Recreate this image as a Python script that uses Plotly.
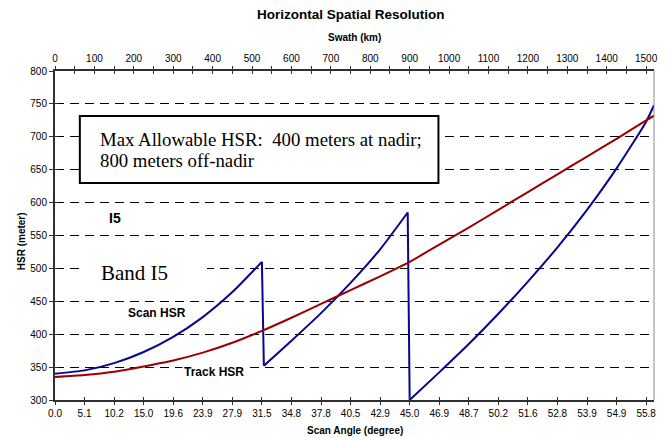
import plotly.graph_objects as go

# ---- data (x = swath distance in km, y = HSR in meters) ----
scan_seg1_swath = [0, 75, 150, 225, 300, 375, 450, 525]
scan_seg1_hsr = [340, 345, 356, 373, 396, 426, 464, 510]
scan_seg2_swath = [530, 600, 675, 750, 825, 895]
scan_seg2_hsr = [352, 390, 432, 478, 529, 585]
scan_seg3_swath = [900, 975, 1050, 1125, 1200, 1275, 1350, 1425, 1500, 1520]
scan_seg3_hsr = [300, 342, 385, 431, 480, 532, 589, 652, 723, 748]

track_swath = [0, 75, 150, 225, 300, 375, 450, 525, 600, 675, 750, 825, 900,
               975, 1050, 1125, 1200, 1275, 1350, 1425, 1500, 1520]
track_hsr = [335, 338, 343, 351, 360, 372, 387, 405, 425, 446, 467, 488, 510,
             536, 562, 589, 616, 643, 670, 697, 725, 732]

angle_tick_swath = [i * 75 for i in range(21)]
angle_tick_labels = ["0.0", "5.1", "10.2", "15.0", "19.6", "23.9", "27.9", "31.5", "34.8",
                     "37.8", "40.5", "42.9", "45.0", "46.9", "48.7", "50.2", "51.6", "52.8",
                     "53.9", "54.9", "55.8"]
swath_tick_vals = list(range(0, 1501, 100))
hsr_ticks = list(range(300, 801, 50))

BLUE = "#06068F"
RED = "#9A0000"
FONT = "Liberation Sans, Arial, sans-serif"
SERIF = "Liberation Serif, Times New Roman, serif"

fig = go.Figure()
line_b = dict(color=BLUE, width=2)
fig.add_trace(go.Scatter(x=scan_seg1_swath, y=scan_seg1_hsr, mode="lines",
                         line=dict(**line_b, shape="spline", smoothing=0.6), showlegend=False))
fig.add_trace(go.Scatter(x=[scan_seg1_swath[-1], scan_seg2_swath[0]],
                         y=[scan_seg1_hsr[-1], scan_seg2_hsr[0]], mode="lines",
                         line=line_b, showlegend=False))
fig.add_trace(go.Scatter(x=scan_seg2_swath, y=scan_seg2_hsr, mode="lines",
                         line=dict(**line_b, shape="spline", smoothing=0.6), showlegend=False))
fig.add_trace(go.Scatter(x=[scan_seg2_swath[-1], scan_seg3_swath[0]],
                         y=[scan_seg2_hsr[-1], scan_seg3_hsr[0]], mode="lines",
                         line=line_b, showlegend=False))
fig.add_trace(go.Scatter(x=scan_seg3_swath, y=scan_seg3_hsr, mode="lines",
                         line=dict(**line_b, shape="spline", smoothing=0.6), showlegend=False))
fig.add_trace(go.Scatter(x=track_swath, y=track_hsr, mode="lines",
                         line=dict(color=RED, width=2, shape="spline", smoothing=0.6),
                         showlegend=False))
# invisible helpers so the overlay axes are drawn
for xa, ya in [("x2", "y"), ("x3", "y"), ("x4", "y"), ("x", "y2")]:
    fig.add_trace(go.Scatter(x=[0], y=[300], xaxis=xa, yaxis=ya, mode="markers",
                             marker=dict(opacity=0), hoverinfo="skip", showlegend=False))

XR = [0, 1520]
YR = [300, 800]
axis_col = "#303030"
tickfont = dict(family=FONT, size=10, color="black")

fig.update_layout(
    width=670, height=438,
    margin=dict(l=55, r=12, t=71, b=38),
    paper_bgcolor="white", plot_bgcolor="white",
    font=dict(family=FONT, color="black"),
    hovermode=False,
    xaxis=dict(range=XR, tickvals=angle_tick_swath, ticktext=angle_tick_labels,
               ticks="outside", ticklen=3, tickcolor=axis_col, tickwidth=1,
               showline=True, linecolor=axis_col, linewidth=2, showgrid=False,
               zeroline=False, tickfont=tickfont, fixedrange=True),
    xaxis3=dict(range=XR, overlaying="x", side="bottom", anchor="y",
                tickvals=angle_tick_swath, ticks="inside", ticklen=3, tickcolor=axis_col,
                showticklabels=False, showline=False, showgrid=False, zeroline=False),
    xaxis2=dict(range=XR, overlaying="x", side="top", anchor="y",
                tickvals=swath_tick_vals, ticks="outside", ticklen=3, tickcolor=axis_col,
                minor=dict(dtick=50, tick0=0, ticks="outside", ticklen=3, tickcolor=axis_col),
                showline=True, linecolor=axis_col, linewidth=2, showgrid=False,
                zeroline=False, tickfont=tickfont),
    xaxis4=dict(range=XR, overlaying="x", side="top", anchor="y",
                tickmode="linear", tick0=0, dtick=50, ticks="inside", ticklen=3,
                tickcolor=axis_col, showticklabels=False, showline=False,
                showgrid=False, zeroline=False),
    yaxis=dict(range=YR, tickvals=hsr_ticks, ticks="outside", ticklen=4, tickcolor=axis_col,
               showline=True, linecolor=axis_col, linewidth=2, mirror=False,
               showgrid=True, gridcolor="black", gridwidth=1, griddash="9px,6px",
               zeroline=False, tickfont=tickfont),
    yaxis2=dict(range=YR, overlaying="y", side="left", anchor="x",
                tickvals=hsr_ticks, ticks="inside", ticklen=3, tickcolor=axis_col,
                showticklabels=False, showline=False, showgrid=False, zeroline=False),
)


def px_x(px):
    return (px - 55) / 603


def px_y(py):
    return (400 - py) / 329


shapes = [
    # right border
    dict(type="line", xref="paper", yref="paper", x0=1, x1=1, y0=0, y1=1,
         line=dict(color="#8a8a8a", width=1), layer="above"),
    # text box
    dict(type="rect", xref="paper", yref="paper", x0=px_x(80), x1=px_x(441),
         y0=px_y(183), y1=px_y(116), line=dict(color="black", width=2),
         fillcolor="white", layer="above"),
    # white background behind "Band I5"
    dict(type="rect", xref="paper", yref="paper", x0=px_x(80), x1=px_x(208),
         y0=px_y(292), y1=px_y(246), line=dict(width=0), fillcolor="white",
         layer="above"),
]
fig.update_layout(shapes=shapes)

ann = []
ann.append(dict(text="<b>Horizontal Spatial Resolution</b>", x=px_x(353), y=px_y(15),
                font=dict(family=FONT, size=13.5)))
ann.append(dict(text="<b>Swath (km)</b>", x=px_x(356), y=px_y(38),
                font=dict(family=FONT, size=10)))
ann.append(dict(text="<b>Scan Angle (degree)</b>", x=px_x(357), y=px_y(430),
                font=dict(family=FONT, size=10)))
ann.append(dict(text="<b>HSR (meter)</b>", x=px_x(21), y=px_y(241), textangle=-90,
                font=dict(family=FONT, size=10)))
ann.append(dict(text="Max Allowable HSR:\u00a0 400 meters at nadir;", x=px_x(98.5), y=px_y(139),
                xanchor="left", font=dict(family=SERIF, size=18.8)))
ann.append(dict(text="800 meters off-nadir", x=px_x(98.5), y=px_y(160.5),
                xanchor="left", font=dict(family=SERIF, size=18.8)))
ann.append(dict(text="<b>I5</b>", x=px_x(115.5), y=px_y(218),
                font=dict(family=FONT, size=14)))
ann.append(dict(text="Band I5", x=px_x(99), y=px_y(273), xanchor="left",
                font=dict(family=SERIF, size=21)))
ann.append(dict(text="<b>Scan HSR</b>", x=px_x(157.5), y=px_y(313),
                font=dict(family=FONT, size=12)))
ann.append(dict(text="<b>Track HSR</b>", x=px_x(215), y=px_y(372), bgcolor="white",
                font=dict(family=FONT, size=12)))
for a in ann:
    a.update(xref="paper", yref="paper", showarrow=False)
    a.setdefault("xanchor", "center")
    a.setdefault("yanchor", "middle")
fig.update_layout(annotations=ann)

fig.write_html("out.html", config={"displayModeBar": False, "staticPlot": True},
               post_script="document.body.style.margin='0';document.body.style.overflow='hidden';")
